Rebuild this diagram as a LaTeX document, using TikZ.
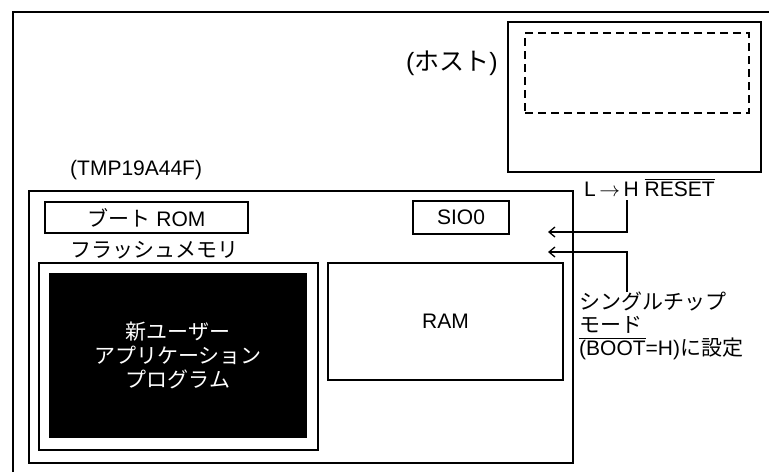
\documentclass[tikz,border=0pt]{standalone}
\usepackage{fontspec}
\setmainfont{Liberation Sans}
\newfontfamily\jp{Noto Sans CJK JP}
\usetikzlibrary{arrows.meta,positioning}
\newcommand\barred[1]{\setbox0\hbox{#1}\rlap{\raisebox{\dimexpr\ht0+1.5pt\relax}{\rule{\wd0}{1.2pt}}}\box0}

\begin{document}
\begin{tikzpicture}[
  x=1pt,y=-1pt,
  font=\fontsize{21}{23}\selectfont,
  rbox/.style={draw,line width=1.3pt,inner sep=0pt},
  wbox/.style={draw,line width=2.4pt,inner sep=0pt},
  lbl/.style={inner sep=0pt},
  arr/.style={-{Straight Barb[length=6pt,width=10pt]},line width=1.3pt},
]
  \useasboundingbox (0,0) rectangle (769,472);
  \draw[line width=2pt] (13,472) |- (769,12);

  % host side
  \node[wbox,minimum width=253pt,minimum height=150pt] (host) at (634.5,97) {};
  \node[rbox,dashed,dash pattern=on 8pt off 5pt,minimum width=224pt,minimum height=80pt] (win) at (637,73) {};
  \node[lbl,anchor=east,font=\fontsize{25}{27}\selectfont] (hostlbl) at (498,63) {({\jp ホスト})};

  % the chip
  \node[rbox,minimum width=544pt,minimum height=272pt] (chip) at (301,327) {};
  \node[lbl,anchor=south west] (chiplbl) at (70,180) {(TMP19A44F)};
  \node[rbox,minimum width=203pt,minimum height=31pt] (rom) at (146.5,217.5) {{\jp ブート} ROM};
  \node[rbox,minimum width=96pt,minimum height=33pt] (sio) at (461,217.5) {SIO0};
  \node[wbox,minimum width=279pt,minimum height=187pt] (flash) at (178.5,356.5) {};
  \node[lbl,above=3pt of flash.north,xshift=-24pt] (flashlbl) {\jp フラッシュメモリ};
  \node[fill=black,minimum width=258pt,minimum height=165pt,text=white,align=center,
        font=\jp\fontsize{21}{24}\selectfont] (app) at (178,355.5)
        {新ユーザー\\アプリケーション\\プログラム};
  \node[rbox,minimum width=235pt,minimum height=117pt] (ram) at (445.5,321.5) {RAM};

  % control pins
  \node[lbl,anchor=west] (reset) at (584,188) {L\,$\rightarrow$\,H \barred{RESET}};
  \node[lbl,anchor=north west,align=left] (mode) at (579,292)
    {{\jp シングルチップ}\\{\jp モード}\\\barred{(BOOT}=H){\jp に設定}};
  \coordinate (rs) at (627,200);
  \coordinate (in1) at (548,232);
  \coordinate (in2) at (548,252);
  \draw[arr] (rs) |- (in1);
  \draw[arr] (mode.north -| rs) |- (in2);
\end{tikzpicture}
\end{document}
